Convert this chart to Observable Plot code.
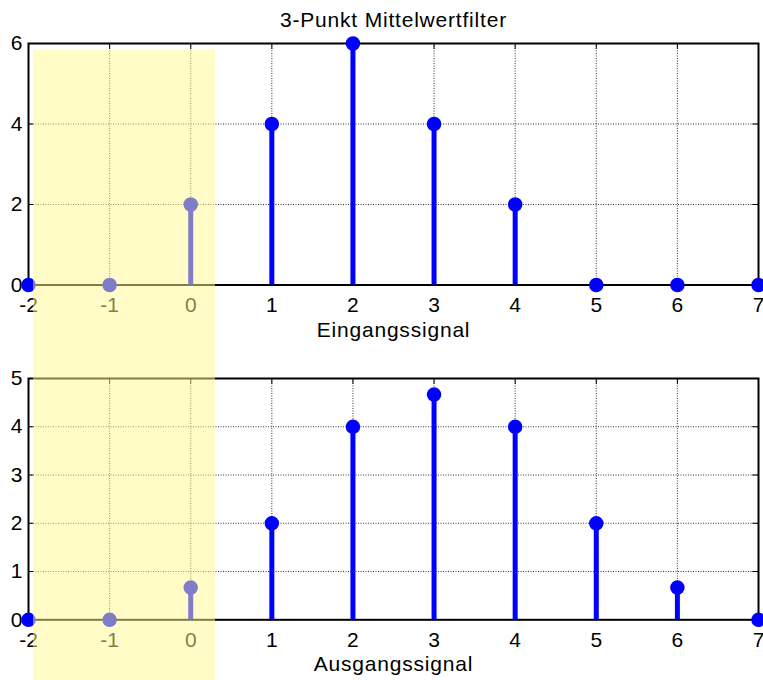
<!DOCTYPE html>
<html><head><meta charset="utf-8">
<script src="https://cdn.jsdelivr.net/npm/d3@7"></script>
<script src="https://cdn.jsdelivr.net/npm/@observablehq/plot@0.6"></script>
<style>
body{margin:0;background:#fff}
#wrap{position:relative;width:763px;height:680px;overflow:hidden}
#wrap svg{display:block}
.lbl text{letter-spacing:0.8px}
</style>
</head><body><div id="wrap"></div>
<script>
// ---- data ----
const n = [-2, -1, 0, 1, 2, 3, 4, 5, 6, 7];
const inputSignal = [0, 0, 2, 4, 6, 4, 2, 0, 0, 0];
const outputSignal = [0, 0, 0.667, 2, 4, 4.667, 4, 2, 0.667, 0];
const xTicks = [-2, -1, 0, 1, 2, 3, 4, 5, 6, 7];
const yTicksTop = [0, 2, 4, 6];
const yTicksBottom = [0, 1, 2, 3, 4, 5];
const titleText = "3-Punkt Mittelwertfilter";
const labelTop = "Eingangssignal";
const labelBottom = "Ausgangssignal";
const highlightX = [-1.94, 0.31];
const highlightTopY = 5.83;

const FONT = "Liberation Sans, Arial, sans-serif";
const FS = 21;

function panel(values, yDomain, yTicks, label, marginTop, marginBottom, labelDy, title) {
  const data = n.map((x, i) => ({n: x, v: values[i]}));
  const [y0, yMax] = yDomain;
  const tx = 0.07;                 // inner tick length, x units
  const ty = (yMax - y0) * 0.024;  // inner tick length, y units
  const grid = {stroke: "#000", strokeOpacity: 1, strokeWidth: 0.8, strokeDasharray: "1,1.5"};
  const marks = [
    Plot.gridX(xTicks, grid),
    Plot.gridY(yTicks, grid),
    // inward MATLAB-style ticks
    Plot.ruleY(yTicks, {x1: -2, x2: -2 + tx, stroke: "#000", strokeWidth: 1}),
    Plot.ruleY(yTicks, {x1: 7 - tx, x2: 7, stroke: "#000", strokeWidth: 1}),
    Plot.ruleX(xTicks, {y1: y0, y2: y0 + ty, stroke: "#000", strokeWidth: 1}),
    Plot.ruleX(xTicks, {y1: yMax - ty, y2: yMax, stroke: "#000", strokeWidth: 1}),
    Plot.frame({stroke: "#000", strokeWidth: 2}),
    Plot.axisX(xTicks, {tickSize: 0, tickPadding: 12, label: null, fontSize: FS, tickFormat: d => String(d)}),
    Plot.axisY(yTicks, {tickSize: 0, tickPadding: 6, label: null, fontSize: FS}),
    Plot.ruleX(data, {x: "n", y1: 0, y2: "v", stroke: "#0000ff", strokeWidth: 5}),
    Plot.dot(data, {x: "n", y: "v", r: 6.5, fill: "#0000ff", stroke: "#0000ff"}),
    Plot.text([label], {text: d => d, frameAnchor: "bottom", lineAnchor: "top", dy: labelDy, fontSize: FS, fill: "#000", className: "lbl"})
  ];
  if (title) marks.push(Plot.text([title], {text: d => d, frameAnchor: "top", lineAnchor: "top", dy: -31, fontSize: FS, fill: "#000", className: "lbl"}));
  return Plot.plot({
    width: 763, height: 340,
    marginLeft: 28, marginRight: 5, marginTop, marginBottom,
    x: {domain: [-2, 7]},
    y: {domain: yDomain},
    style: {fontFamily: FONT, fontSize: FS + "px", color: "#000", background: "transparent", overflow: "visible"},
    marks
  });
}

const wrap = document.getElementById("wrap");
const topPanel = panel(inputSignal, [0, 6], yTicksTop, labelTop, 43, 55.5, 37.5, titleText);
const bottomPanel = panel(outputSignal, [0, 5], yTicksBottom, labelBottom, 38, 60.7, 36, null);
wrap.appendChild(topPanel);
wrap.appendChild(bottomPanel);

const xs = topPanel.scale("x"), ys = topPanel.scale("y");
const bx1 = xs.apply(highlightX[0]), bx2 = xs.apply(highlightX[1]);
const by1 = ys.apply(highlightTopY);
const band = document.createElement("div");
band.style.cssText = `position:absolute;left:${bx1}px;top:${by1}px;width:${bx2 - bx1}px;height:${680 - by1}px;background:rgba(255,249,145,0.5);pointer-events:none`;
wrap.appendChild(band);
</script>
</body></html>
